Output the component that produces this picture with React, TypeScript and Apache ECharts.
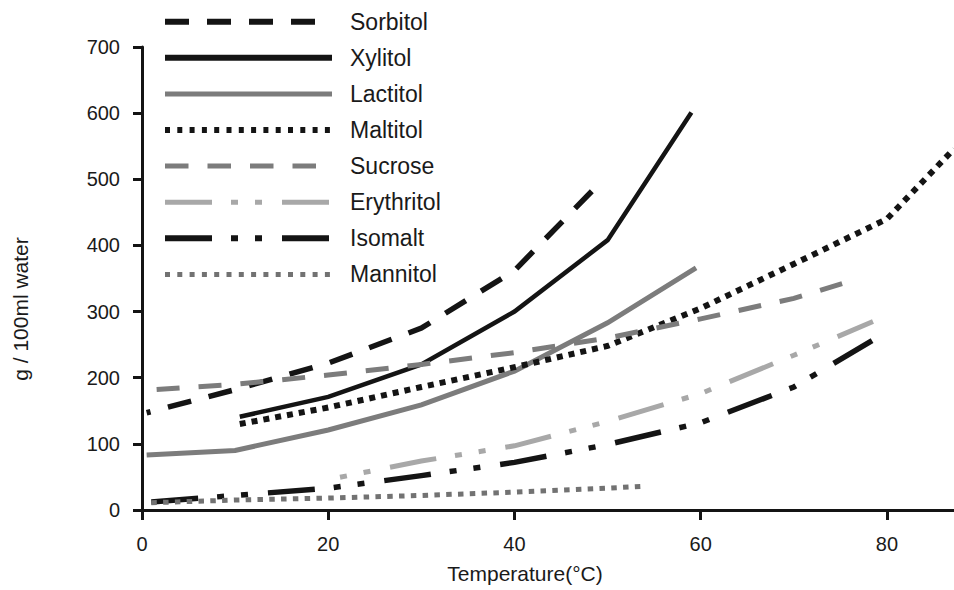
import React, { useEffect, useRef } from "react";
import * as echarts from "echarts";

// ---- data (temperature °C, g / 100ml water) ----
const xTickValues = [0, 20, 40, 60, 80];
const yTickValues = [0, 100, 200, 300, 400, 500, 600, 700];

const seriesNames = ["Sorbitol", "Xylitol", "Lactitol", "Maltitol", "Sucrose", "Erythritol", "Isomalt", "Mannitol"];

const sorbitol = [[0.5, 147], [10, 182], [20, 222], [30, 275], [40, 362], [49, 492]];
const xylitol = [[10.5, 141], [20, 171], [30, 220], [40, 300], [50, 408], [59, 601]];
const lactitol = [[0.5, 83], [10, 90], [20, 121], [30, 159], [40, 210], [50, 283], [59.5, 366]];
const maltitol = [[10.5, 130], [20, 155], [30, 186], [40, 216], [50, 248], [60, 305], [70, 372], [80, 440], [87.2, 546]];
const sucrose = [[0.5, 181], [10, 190], [20, 204], [30, 220], [40, 238], [50, 260], [60, 289], [70, 320], [76.5, 348]];
const erythritol = [[20, 46], [30, 74], [40, 97], [50, 134], [60, 176], [70, 234], [78.5, 285]];
const isomalt = [[1, 12], [10, 22], [20, 33], [30, 52], [40, 72], [50, 99], [60, 132], [70, 186], [78.4, 256]];
const mannitol = [[1, 11], [10, 15], [20, 18], [30, 22], [40, 27], [50, 33], [54, 36]];

const seriesData = [sorbitol, xylitol, lactitol, maltitol, sucrose, erythritol, isomalt, mannitol];

// ---- styles ----
const BLACK = "#141414";
const GRAY = "#7c7c7c";
const LIGHT = "#a8a8a8";
const FONT = "'Liberation Sans', Arial, Helvetica, sans-serif";

const dashDot: number[] = [47, 19, 7, 17, 7, 20];

const styles = [
  { color: BLACK, width: 5.5, dash: [24, 18] as any, offset: 20, legendWidth: 6, legendDash: [24, 18], legendEnd: 315 },
  { color: BLACK, width: 4.5, dash: "solid" as any, offset: 0, legendWidth: 6, legendDash: null, legendEnd: 332 },
  { color: GRAY, width: 5, dash: "solid" as any, offset: 0, legendWidth: 5, legendDash: null, legendEnd: 332 },
  { color: BLACK, width: 6, dash: [6, 6] as any, offset: 0, legendWidth: 6, legendDash: [5, 7.3], legendEnd: 331 },
  { color: GRAY, width: 5, dash: [23, 19] as any, offset: 31.6, legendWidth: 5, legendDash: [23.5, 19], legendEnd: 317 },
  { color: LIGHT, width: 5, dash: dashDot as any, offset: 54, legendWidth: 5, legendDash: dashDot, legendEnd: 330 },
  { color: BLACK, width: 5.5, dash: dashDot as any, offset: 0, legendWidth: 6, legendDash: dashDot, legendEnd: 330 },
  { color: "#727272", width: 5, dash: [5.5, 6.3] as any, offset: 0, legendWidth: 5, legendDash: [5, 7.3], legendEnd: 331 },
];

export default function App() {
  const ref = useRef<HTMLDivElement>(null);

  useEffect(() => {
    if (!ref.current) return;
    const chart = echarts.init(ref.current, undefined, { renderer: "svg" });

    const series = seriesNames.map((name, i) => ({
      name,
      type: "line",
      data: seriesData[i],
      showSymbol: false,
      symbol: "none",
      silent: true,
      clip: true,
      z: 2 + i,
      lineStyle: {
        color: styles[i].color,
        width: styles[i].width,
        type: styles[i].dash,
        dashOffset: styles[i].offset,
        cap: "butt",
        join: "miter",
      },
    }));

    const legendGraphics: any[] = [];
    seriesNames.forEach((name, i) => {
      const y = 21.7 + i * 36.1;
      const st = styles[i];
      legendGraphics.push({
        type: "line",
        silent: true,
        shape: { x1: 165, y1: y, x2: st.legendEnd, y2: y },
        style: {
          stroke: st.color,
          lineWidth: st.legendWidth,
          lineDash: st.legendDash || undefined,
          lineCap: "butt",
        },
      });
      legendGraphics.push({
        type: "text",
        silent: true,
        x: 350,
        y: y,
        style: {
          text: name,
          fontSize: 23,
          fontFamily: FONT,
          fill: "#1a1a1a",
          align: "left",
          verticalAlign: "middle",
        },
      });
    });

    const option: any = {
      animation: false,
      backgroundColor: "#ffffff",
      grid: { left: 142, right: 0, top: 47, bottom: 80 },
      xAxis: {
        type: "value",
        min: 0,
        max: 87.2,
        interval: 20,
        splitLine: { show: false },
        axisLine: { show: true, onZero: false, lineStyle: { color: BLACK, width: 3 } },
        axisTick: { show: true, length: 10, lineStyle: { color: BLACK, width: 3 } },
        axisLabel: {
          show: true,
          margin: 24,
          fontSize: 20,
          fontFamily: FONT,
          color: "#1a1a1a",
          showMaxLabel: false,
          formatter: (v: number) => (xTickValues.indexOf(v) >= 0 ? String(v) : ""),
        },
      },
      yAxis: {
        type: "value",
        min: 0,
        max: 700,
        interval: 100,
        splitLine: { show: false },
        axisLine: { show: true, lineStyle: { color: BLACK, width: 3 } },
        axisTick: { show: true, length: 9, lineStyle: { color: BLACK, width: 3 } },
        axisLabel: {
          show: true,
          margin: 22,
          fontSize: 20,
          fontFamily: FONT,
          color: "#1a1a1a",
          formatter: (v: number) => (yTickValues.indexOf(v) >= 0 ? String(v) : ""),
        },
      },
      graphic: [
        ...legendGraphics,
        {
          type: "text",
          silent: true,
          x: 525,
          y: 573,
          style: {
            text: "Temperature(°C)",
            fontSize: 21,
            fontFamily: FONT,
            fill: "#1a1a1a",
            align: "center",
            verticalAlign: "middle",
          },
        },
        {
          type: "text",
          silent: true,
          x: 20,
          y: 309,
          rotation: Math.PI / 2,
          style: {
            text: "g / 100ml water",
            fontSize: 21,
            fontFamily: FONT,
            fill: "#1a1a1a",
            align: "center",
            verticalAlign: "middle",
          },
        },
      ],
      series,
    };

    chart.setOption(option);
    return () => {
      chart.dispose();
    };
  }, []);

  return (
    <div
      ref={ref}
      style={{ position: "fixed", left: 0, top: 0, width: 954, height: 590, background: "#fff" }}
    />
  );
}
